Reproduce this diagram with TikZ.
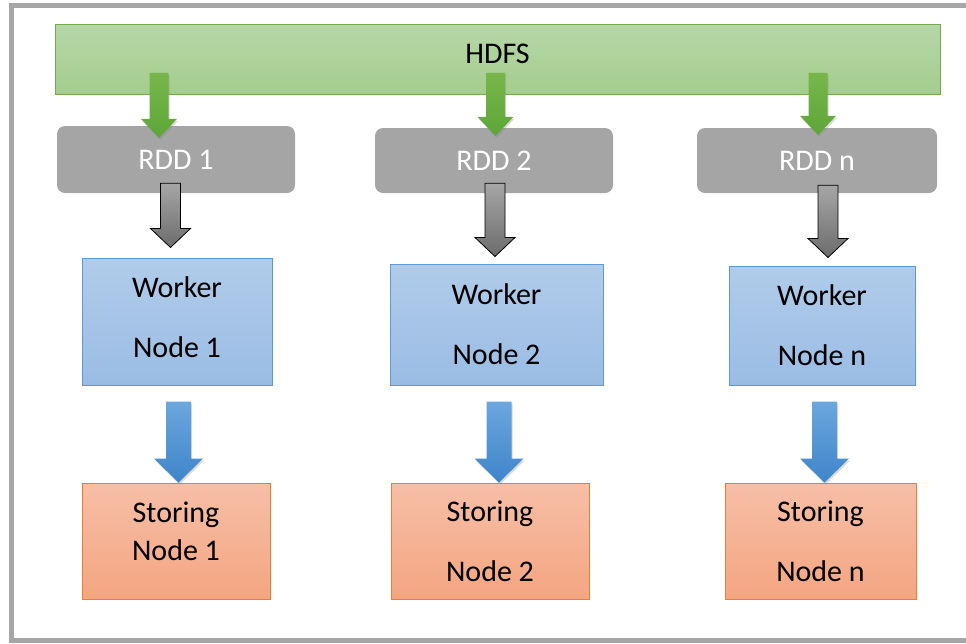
\documentclass[tikz,border=0pt]{standalone}
\usepackage{fontspec}
\setmainfont{Carlito}
\usetikzlibrary{calc,shadows}
\definecolor{framegray}{HTML}{A6A6A6}
\definecolor{hdfsline}{HTML}{70AD47}
\definecolor{hdfstop}{HTML}{B6D7A8}
\definecolor{hdfsbot}{HTML}{A4CD8D}
\definecolor{rddgray}{HTML}{A5A5A5}
\definecolor{workerline}{HTML}{5B9BD5}
\definecolor{workertop}{HTML}{B1CCEA}
\definecolor{workerbot}{HTML}{9ABCE4}
\definecolor{storeline}{HTML}{ED7D31}
\definecolor{storetop}{HTML}{F6BFA7}
\definecolor{storebot}{HTML}{F4A581}
\definecolor{greentop}{HTML}{78B64B}
\definecolor{greenbot}{HTML}{5DA638}
\definecolor{graytop}{HTML}{A6A6A6}
\definecolor{graybot}{HTML}{6C6C6C}
\definecolor{bluetop}{HTML}{6CA7DE}
\definecolor{bluebot}{HTML}{3E85CA}

\begin{document}
\begin{tikzpicture}[x=1pt,y=-1pt,
		every node/.style={font=\fontsize{30}{38}\selectfont, inner sep=0pt},
		hdfsbox/.style={draw=hdfsline, line width=1pt, top color=hdfstop, bottom color=hdfsbot},
		rddbox/.style={fill=rddgray, rounded corners=8pt, text=white},
		workerbox/.style={draw=workerline, line width=1pt, top color=workertop, bottom color=workerbot, align=center},
		storebox/.style={draw=storeline, line width=1pt, top color=storetop, bottom color=storebot, align=center},
		blockarrow/.style n args={3}{to path={let \p1=(\tikztostart), \p2=(\tikztotarget) in
			(\x1-#1,\y1) -- (\x1+#1,\y1) -- (\x1+#1,\y2+#3) -- (\x1+#2,\y2+#3) -- (\x1,\y2)
			-- (\x1-#2,\y2+#3) -- (\x1-#1,\y2+#3) -- cycle}},
		softshadow/.style={drop shadow={shadow xshift=1pt, shadow yshift=-2pt, opacity=0.3}},
		garrow/.style={blockarrow={9.5pt}{18pt}{19pt}, top color=greentop, bottom color=greenbot, softshadow},
		karrow/.style={blockarrow={10pt}{20pt}{19pt}, draw=black, line width=0.8pt, top color=graytop, bottom color=graybot},
		barrow/.style={blockarrow={12.5pt}{24.5pt}{24pt}, top color=bluetop, bottom color=bluebot, softshadow}
	]
		\useasboundingbox (0,0) rectangle (966,643);
		\draw[framegray, line width=5pt] (11.5,5.5) rectangle (975,640.5);

		\node[hdfsbox, minimum width=885pt, minimum height=70pt, text depth=10pt] (hdfs) at (497.5,59) {HDFS};

		\node[rddbox, minimum width=238pt, minimum height=67pt] (rdd1) at (176,159.5) {RDD 1};
		\node[rddbox, minimum width=238pt, minimum height=65pt] (rdd2) at (494,160.5) {RDD 2};
		\node[rddbox, minimum width=240pt, minimum height=65pt] (rddn) at (817,160.5) {RDD n};

		\node[workerbox, minimum width=190pt, minimum height=127pt] (w1) at (177,321.5) {Worker\\[22pt]Node 1\\[-30pt]\mbox{}};
		\node[workerbox, minimum width=213pt, minimum height=121pt] (w2) at (496.5,324.5) {Worker\\[22pt]Node 2};
		\node[workerbox, minimum width=186pt, minimum height=119pt] (wn) at (822,325.5) {Worker\\[22pt]Node n};

		\node[storebox, minimum width=188pt, minimum height=116pt] (s1) at (176,541) {Storing\\Node 1\\[-18pt]\mbox{}};
		\node[storebox, minimum width=198pt, minimum height=116pt] (s2) at (490,541) {Storing\\[22pt]Node 2};
		\node[storebox, minimum width=191pt, minimum height=116pt] (sn) at (820.5,541) {Storing\\[22pt]Node n};

		\path[garrow] ([shift={(-17,-53)}]rdd1.north) to ([shift={(0,12)}]rdd1.north);
		\path[garrow] ([shift={(1.5,-55)}]rdd2.north) to ([shift={(0,8)}]rdd2.north);
		\path[garrow] ([shift={(1,-55)}]rddn.north) to ([shift={(0,7)}]rddn.north);

		\path[karrow] ([shift={(-5.5,-10)}]rdd1.south) to ([shift={(0,-10)}]w1.north);
		\path[karrow] ([shift={(1,-10)}]rdd2.south) to ([shift={(0,-7)}]w2.north);
		\path[karrow] ([shift={(11,-8)}]rddn.south) to ([shift={(0,-8)}]wn.north);

		\path[barrow] ([shift={(1.5,16)}]w1.south) to (s1.north);
		\path[barrow] ([shift={(2.5,16)}]w2.south) to (s2.north);
		\path[barrow] ([shift={(2.5,16)}]wn.south) to (sn.north);
	\end{tikzpicture}
\end{document}
